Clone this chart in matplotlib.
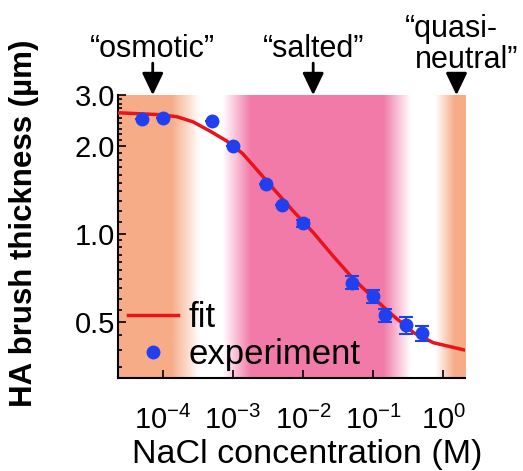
import numpy as np
import matplotlib
matplotlib.use('Agg')
import matplotlib.pyplot as plt
from matplotlib.colors import to_rgb
from matplotlib.ticker import FixedLocator, LogLocator, NullFormatter
from matplotlib.transforms import blended_transform_factory

plt.rcParams['font.family'] = ['Liberation Sans', 'DejaVu Sans']
plt.rcParams['mathtext.fontset'] = 'custom'
plt.rcParams['mathtext.rm'] = 'Liberation Sans'
plt.rcParams['mathtext.it'] = 'Liberation Sans'

# measured points
conc = [5e-5, 1e-4, 5e-4, 1e-3, 3e-3, 5e-3, 1e-2, 5e-2, 1e-1, 0.15, 0.3, 0.5]
thick = [2.49, 2.51, 2.45, 2.0, 1.48, 1.26, 1.09, 0.68, 0.61, 0.525, 0.485, 0.456]
thick_err = [0, 0, 0, 0, 0, 0, 0.03, 0.035, 0.03, 0.028, 0.032, 0.028]

# fit curve
fit_conc = [2.29e-5, 9.1e-5, 1.58e-4, 2.69e-4, 4.68e-4, 8.1e-4, 1.38e-3, 1.95e-3,
            3.8e-3, 7.24e-3, 1.41e-2, 2.69e-2, 5.25e-2, 0.1, 0.195, 0.38, 0.724, 1.95]
fit_thick = [2.61, 2.57, 2.53, 2.43, 2.26, 2.09, 1.89, 1.72,
             1.43, 1.20, 1.01, 0.84, 0.70, 0.605, 0.523, 0.458, 0.423, 0.40]

# background regime bands: (log10 conc, colour) stops
orange = '#F7AC88'
pink = '#F27AA8'
band_stops = [(-4.7, orange), (-3.88, orange), (-3.47, 'white'), (-3.15, 'white'),
              (-2.75, pink), (-0.86, pink), (-0.47, 'white'), (-0.12, 'white'),
              (0.15, orange), (0.4, orange)]

regimes = ['\u201cosmotic\u201d', '\u201csalted\u201d', '\u201cquasi-', 'neutral\u201d']
regime_conc = [7.2e-5, 1.4e-2, 1.55]

xlim = (2.3e-5, 2.05)
ylim = (0.32, 3.0)

fig = plt.figure(figsize=(5.23, 4.71), dpi=100)
ax = fig.add_axes([0.2256, 0.1975, 0.6635, 0.6005])
ax.set_xscale('log')
ax.set_yscale('log')
ax.set_xlim(*xlim)
ax.set_ylim(*ylim)

# gradient background
lx = np.linspace(np.log10(xlim[0]), np.log10(xlim[1]), 600)
sx = [s[0] for s in band_stops]
cols = np.array([to_rgb(s[1]) for s in band_stops])
img = np.stack([np.interp(lx, sx, cols[:, k]) for k in range(3)], axis=-1)[None, :, :]
ax.imshow(img, extent=(0, 1, 0, 1), transform=ax.transAxes, aspect='auto',
          zorder=0, interpolation='bilinear')

blue = '#2040F0'
ax.plot(fit_conc, fit_thick, color='#E8141C', lw=2.5, label='fit', zorder=3)
ax.errorbar(conc, thick, yerr=thick_err, fmt='none', ecolor=blue,
            elinewidth=1.5, capsize=5, capthick=1.5, zorder=4)
ax.plot(conc, thick, 'o', color=blue, ms=9, label='experiment', zorder=5)

for s in ['top', 'right']:
    ax.spines[s].set_visible(False)
for s in ['left', 'bottom']:
    ax.spines[s].set_linewidth(1.5)

ax.xaxis.set_major_locator(FixedLocator([1e-4, 1e-3, 1e-2, 1e-1, 1e0]))
ax.set_xticklabels(['10$^{-4}$', '10$^{-3}$', '10$^{-2}$', '10$^{-1}$', '10$^{0}$'])
ax.xaxis.set_minor_locator(LogLocator(base=10, subs=np.arange(2, 10)))
ax.xaxis.set_minor_formatter(NullFormatter())
ax.yaxis.set_major_locator(FixedLocator([0.5, 1.0, 2.0, 3.0]))
ax.set_yticklabels(['0.5', '1.0', '2.0', '3.0'])
ax.yaxis.set_minor_locator(FixedLocator(np.r_[np.arange(0.35, 1.0, 0.05),
                                                np.arange(1.1, 3.0, 0.1)]))
ax.yaxis.set_minor_formatter(NullFormatter())
ax.tick_params(which='both', direction='in', width=1.2)
ax.tick_params(axis='x', labelsize=21, pad=20)
ax.tick_params(axis='y', labelsize=21, pad=2)
ax.tick_params(which='major', length=6)
ax.tick_params(which='minor', length=3)

ax.set_xlabel('NaCl concentration (M)', fontsize=24.5, labelpad=3)
ax.xaxis.label.set_x(0.545)
ax.set_ylabel('HA brush thickness (\u00b5m)', fontsize=22.5, fontweight='bold', labelpad=26)
ax.yaxis.label.set_y(0.546)

ax.legend(loc='lower left', bbox_to_anchor=(0.029, 0.025), frameon=False,
          fontsize=25, handlelength=1.44, handletextpad=0.3, labelspacing=0.1,
          borderpad=0, borderaxespad=0)

# regime arrows and names
head = dict(arrowstyle='-|>,head_length=0.75,head_width=0.36', color='black',
            lw=2, mutation_scale=18, shrinkA=0, shrinkB=0)
for xc, y0 in zip(regime_conc, [0.866, 0.866, 0.826]):
    ax.annotate('', xy=(xc, 1.0), xycoords=('data', 'axes fraction'),
                xytext=(xc, y0), textcoords=('data', 'figure fraction'),
                annotation_clip=False, arrowprops=head)
top_tr = blended_transform_factory(ax.transData, fig.transFigure)
for name, xc in zip(regimes[:2], regime_conc[:2]):
    ax.text(xc, 0.879, name, ha='center', va='baseline', fontsize=22,
            transform=top_tr, clip_on=False)
fig.text(0.774, 0.921, regimes[2], ha='left', va='baseline', fontsize=22)
fig.text(0.793, 0.856, regimes[3], ha='left', va='baseline', fontsize=22)

fig.savefig('out.png', dpi=100)
